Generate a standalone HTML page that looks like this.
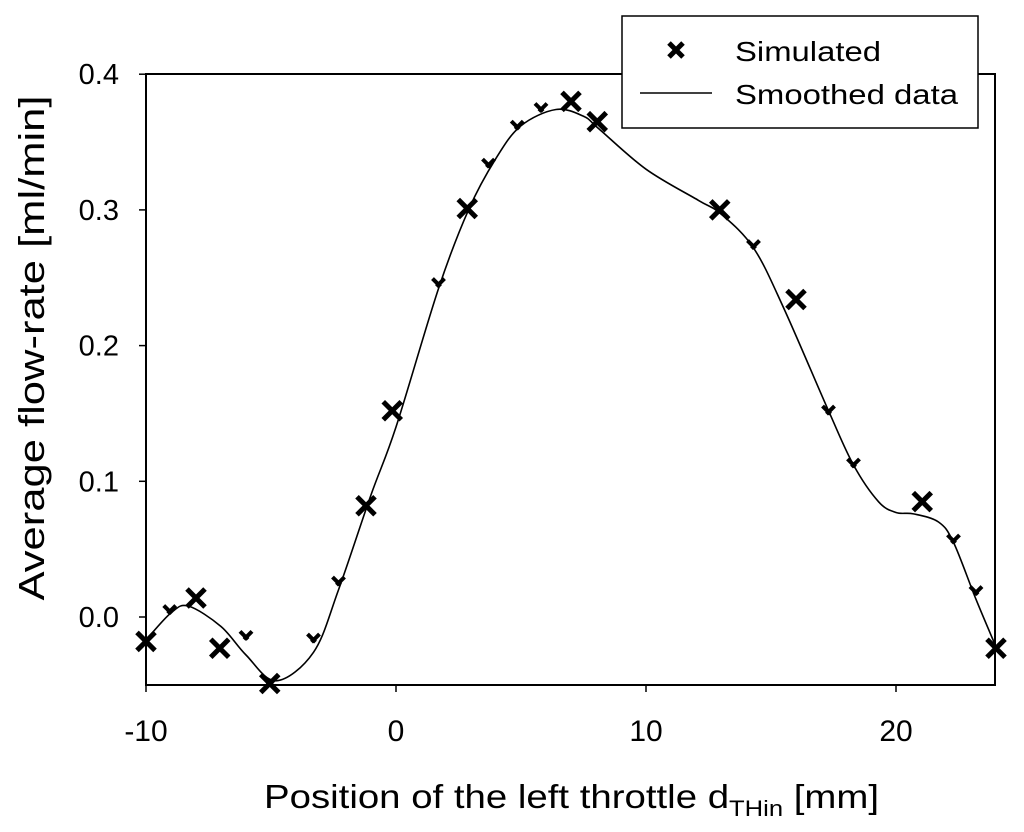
<!DOCTYPE html>
<html><head><meta charset="utf-8"><style>
html,body{margin:0;padding:0;background:#fff;}
svg{display:block;font-family:"Liberation Sans",Arial,sans-serif;}
</style></head><body>
<svg id="chart" width="1024" height="832" viewBox="0 0 1024 832">
<rect x="146" y="74" width="849" height="611" fill="none" stroke="#000" stroke-width="2"/>
<g id="ticks"></g>
<path id="curve" fill="none" stroke="#000" stroke-width="1.6"/>
<g id="marks"></g>
<text x="264" y="808" font-size="33" textLength="615" lengthAdjust="spacingAndGlyphs">Position of the left throttle d<tspan font-size="22" dy="8">THin</tspan><tspan dy="-8"> [mm]</tspan></text>
<text transform="translate(44,348) rotate(-90)" font-size="36" text-anchor="middle" textLength="505" lengthAdjust="spacingAndGlyphs">Average flow-rate [ml/min]</text>
<g>
<rect x="622" y="16" width="356" height="112" fill="#fff" stroke="#000" stroke-width="1.5"/>
<g><line x1="669" y1="43" x2="683" y2="57" stroke="#000" stroke-width="5"/><line x1="683" y1="43" x2="669" y2="57" stroke="#000" stroke-width="5"/></g>
<text x="735" y="61" font-size="28" textLength="146" lengthAdjust="spacingAndGlyphs">Simulated</text>
<line x1="640" y1="93" x2="712" y2="93" stroke="#000" stroke-width="1.5"/>
<text x="735" y="104" font-size="28" textLength="223" lengthAdjust="spacingAndGlyphs">Smoothed data</text>
</g>
</svg>
<script>
const xTicks=[-10,0,10,20];
const yTicks=[0.0,0.1,0.2,0.3,0.4];
const yTickLabels=["0.0","0.1","0.2","0.3","0.4"];
const simX=[-10,-8,-7.05,-5.05,-1.2,-0.15,2.85,7,8.05,12.95,16,21.05,24];
const simY=[-0.018,0.014,-0.023,-0.049,0.082,0.152,0.301,0.380,0.365,0.300,0.234,0.085,-0.023];
const partX=[-9.05,-6,-3.3,-2.3,1.7,3.7,4.85,5.8,14.3,17.3,18.3,22.3,23.2];
const partY=[0.004,-0.015,-0.017,0.025,0.245,0.333,0.361,0.374,0.273,0.151,0.112,0.056,0.018];
const curveX=[-10,-9,-8.3,-7,-6,-4.8,-3.3,-2.3,-1,0,1.7,2.9,4,5,6.4,7.5,8.1,10,12.1,13,14.3,15.5,17.3,18.3,19.3,20,20.7,21.7,22.3,23.2,24];
const curveY=[-0.017,0.003,0.008,-0.007,-0.028,-0.047,-0.026,0.02,0.09,0.14,0.242,0.3,0.338,0.362,0.374,0.369,0.36,0.33,0.307,0.297,0.272,0.228,0.152,0.112,0.085,0.077,0.076,0.07,0.055,0.013,-0.022];
const X=v=>146+(v+10)*25;
const Y=v=>617-v*1357;
const NS="http://www.w3.org/2000/svg";
const tg=document.getElementById('ticks');
function mk(tag,attrs,parent){const e=document.createElementNS(NS,tag);for(const k in attrs)e.setAttribute(k,attrs[k]);parent.appendChild(e);return e;}
xTicks.forEach(t=>{
 const l=mk('line',{x1:X(t),x2:X(t),y1:685,y2:692,stroke:'#000','stroke-width':1.5},tg);
 
 
 const tx=mk('text',{x:X(t),y:741,'font-size':30,'text-anchor':'middle'},tg);
 tx.textContent=t;
 
 
});
yTicks.forEach((t,i)=>{
 const l=mk('line',{x1:139,x2:146,y1:Y(t),y2:Y(t),stroke:'#000','stroke-width':1.5},tg);
 
 
 const tx=mk('text',{x:119,y:Y(t)+10,'font-size':29,'text-anchor':'end'},tg);
 tx.textContent=yTickLabels[i];
 
 
});
const P=curveX.map((x,i)=>[X(x),Y(curveY[i])]);
let d='M'+P[0][0]+','+P[0][1];
for(let i=0;i<P.length-1;i++){
 const p0=P[Math.max(0,i-1)],p1=P[i],p2=P[i+1],p3=P[Math.min(P.length-1,i+2)];
 const c1=[p1[0]+(p2[0]-p0[0])/6,p1[1]+(p2[1]-p0[1])/6];
 const c2=[p2[0]-(p3[0]-p1[0])/6,p2[1]-(p3[1]-p1[1])/6];
 d+=' C'+c1+' '+c2+' '+p2;
}
document.getElementById('curve').setAttribute('d',d);
const mg=document.getElementById('marks');
simX.forEach((x,i)=>{
 const cx=X(x),cy=Y(simY[i]),s=9;
 const g=mk('g',{},mg);
 
 
 mk('line',{x1:cx-s,y1:cy-s,x2:cx+s,y2:cy+s,stroke:'#000','stroke-width':5},g);
 mk('line',{x1:cx+s,y1:cy-s,x2:cx-s,y2:cy+s,stroke:'#000','stroke-width':5},g);
});
partX.forEach((x,i)=>{
 const cx=X(x),cy=Y(partY[i]),s=6;
 const g=mk('g',{},mg);
 
 
 mk('line',{x1:cx-s,y1:cy-s,x2:cx+2,y2:cy+2,stroke:'#000','stroke-width':4},g);
 mk('line',{x1:cx+s,y1:cy-s,x2:cx-2,y2:cy+2,stroke:'#000','stroke-width':4},g);
});
</script>
</body></html>
